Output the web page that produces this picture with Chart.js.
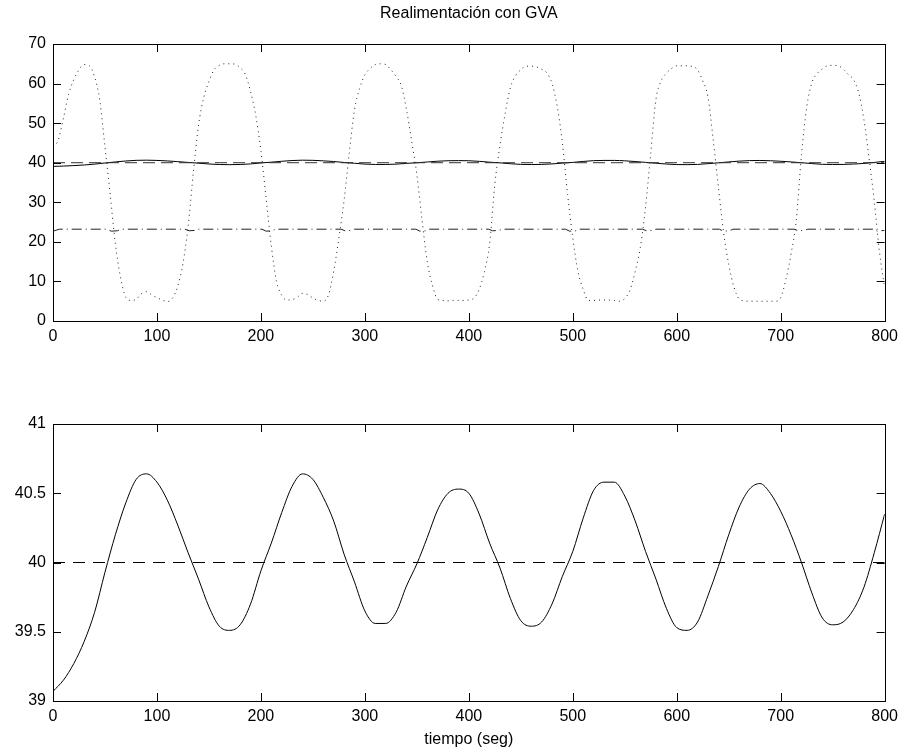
<!DOCTYPE html>
<html>
<head>
<meta charset="utf-8">
<script src="https://cdn.jsdelivr.net/npm/chart.js@4.4.1/dist/chart.umd.min.js"></script>
<style>
  body { margin: 0; background: #fff; }
  canvas { position: absolute; left: 0; }
  #arriba { top: 0; }
  #abajo { top: 360px; }
</style>
</head>
<body>
<canvas id="arriba" width="904" height="360"></canvas>
<canvas id="abajo" width="904" height="389"></canvas>
<script>
// sampling grids (seg)
const tiempo10 = Array.from({length: 81}, (_, i) => i * 10);
const tiempo5 = Array.from({length: 161}, (_, i) => i * 5);

// solid line: controlled variable, read every 10 s
const salida = [
  39.07, 39.15, 39.27, 39.43, 39.64, 39.93, 40.2, 40.43, 40.6, 40.64,
  40.58, 40.45, 40.27, 40.07, 39.88, 39.68, 39.54, 39.51, 39.55, 39.7,
  39.94, 40.14, 40.36, 40.55, 40.64, 40.6, 40.47, 40.3, 40.06, 39.86,
  39.65, 39.56, 39.56, 39.64, 39.83, 39.99, 40.18, 40.38, 40.5, 40.53,
  40.5, 40.35, 40.14, 39.96, 39.74, 39.58, 39.54, 39.57, 39.7, 39.9,
  40.08, 40.32, 40.52, 40.58, 40.58, 40.48, 40.3, 40.08, 39.88, 39.67,
  39.53, 39.51, 39.57, 39.76, 39.97, 40.2, 40.4, 40.53, 40.57, 40.5,
  40.37, 40.2, 40.0, 39.78, 39.6, 39.55, 39.57, 39.66, 39.82, 40.07,
  40.35
];

// dotted line: perturbation, read every 5 s
const perturbacion = [
  44, 45.7, 51.2, 57.3, 61, 63.5, 64.8, 64.5, 61.7, 55.8,
  44, 32, 19.5, 11, 6, 5.2, 5.5, 6.9, 7.4, 6.6,
  5.9, 5.3, 4.9, 5.8, 8.8, 14.5, 24, 37.5, 49.5, 56.5,
  60.5, 63.5, 64.6, 65, 65, 64.9, 64, 62.3, 58, 52,
  43, 31, 19, 10, 6.5, 5.3, 5.4, 6, 7, 6.7,
  5.8, 5.2, 5, 6.6, 12.5, 21, 30.5, 42.5, 53.3, 58.8,
  62.2, 63.8, 64.8, 65, 64.8, 63.5, 61.8, 59.5, 53.5, 45.5,
  37, 25.5, 15, 9, 5.5, 5.2, 5.1, 5.2, 5.2, 5.2,
  5.3, 5.8, 8, 12.5, 19.5, 34.5, 44.5, 52.5, 59, 62,
  63.5, 64.4, 64.4, 64.2, 63.6, 62.7, 60, 54.3, 45, 32,
  21, 12.5, 8, 5.2, 5.2, 5.3, 5.3, 5.3, 5.2, 5,
  5.7, 7.8, 12.5, 18.6, 28.8, 42.5, 56, 60.7, 62.6, 63.8,
  64.5, 64.5, 64.5, 64.3, 63.5, 60.7, 56.7, 46, 34, 22.5,
  14.3, 8.6, 5.6, 5.1, 5, 5, 5, 5, 5, 5,
  5.9, 10.5, 17, 25.5, 42, 54, 60.2, 62.5, 63.7, 64.5,
  64.6, 64.5, 63.7, 62.3, 61, 57.7, 51, 41.2, 30.3, 17.5,
  8.4
];

// dash-dot line: manipulated variable
const tiempoMando = [
  0, 6,
  52, 56, 62, 65,
  127, 131, 137, 140,
  201, 205, 211, 214,
  277, 281, 287, 290,
  349, 353, 359, 362,
  419, 423, 429, 432,
  493, 497, 503, 506,
  567, 571, 577, 580,
  641, 645, 651, 654,
  713, 717, 723, 726,
  789, 793, 800
];
const mando = [
  22.7, 23.2,
  23.2, 22.7, 22.8, 23.2,
  23.2, 22.8, 22.9, 23.2,
  23.2, 22.7, 22.8, 23.2,
  23.2, 22.8, 22.9, 23.2,
  23.2, 22.7, 22.8, 23.2,
  23.2, 22.8, 22.9, 23.2,
  23.2, 22.7, 22.8, 23.2,
  23.2, 22.8, 22.9, 23.2,
  23.2, 22.7, 22.8, 23.2,
  23.2, 22.8, 22.9, 23.2,
  23.2, 22.7, 22.9
];

// dashed line: setpoint
const tiempoRef = [0, 800];
const referencia = [40, 40];

const xTicks = [0, 100, 200, 300, 400, 500, 600, 700, 800];

const FONT = 'Liberation Sans, Arial, Helvetica, sans-serif';

function pares(xs, ys) {
  return xs.map((x, i) => ({x: x, y: ys[i]}));
}

// Matlab style box with inward ticks on every side
const marcoMatlab = {
  id: 'marcoMatlab',
  afterDatasetsDraw(chart) {
    const {ctx, chartArea: a, scales} = chart;
    ctx.save();
    ctx.strokeStyle = '#000';
    ctx.lineWidth = 1;
    ctx.beginPath();
    scales.x.ticks.forEach(t => {
      const px = Math.round(scales.x.getPixelForValue(t.value)) + 0.5;
      ctx.moveTo(px, a.bottom); ctx.lineTo(px, a.bottom - 8);
      ctx.moveTo(px, a.top); ctx.lineTo(px, a.top + 8);
    });
    scales.y.ticks.forEach(t => {
      const py = Math.round(scales.y.getPixelForValue(t.value)) + 0.5;
      ctx.moveTo(a.left, py); ctx.lineTo(a.left + 8, py);
      ctx.moveTo(a.right, py); ctx.lineTo(a.right - 8, py);
    });
    ctx.stroke();
    ctx.strokeRect(Math.round(a.left) + 0.5, Math.round(a.top) + 0.5,
      Math.round(a.right - a.left), Math.round(a.bottom - a.top));
    ctx.restore();
  }
};

function ejeX(alto, titulo) {
  return {
    type: 'linear', min: 0, max: 800,
    afterBuildTicks: s => { s.ticks = xTicks.map(v => ({value: v})); },
    afterFit: s => { s.height = alto; },
    grid: {display: false, drawTicks: false},
    border: {display: false},
    ticks: {color: '#000', padding: 6, maxRotation: 0, font: {family: FONT, size: 16}},
    title: titulo ? {display: true, text: titulo, color: '#000', padding: 0, font: {family: FONT, size: 16}} : {display: false}
  };
}

function ejeY(min, max, paso) {
  return {
    min: min, max: max,
    afterFit: s => { s.width = 53; },
    grid: {display: false, drawTicks: false},
    border: {display: false},
    ticks: {stepSize: paso, color: '#000', padding: 7, font: {family: FONT, size: 16},
      callback: v => String(v)}
  };
}

const linea = {pointRadius: 0, borderWidth: 1, tension: 0, fill: false};
const suave = {cubicInterpolationMode: 'monotone'};

new Chart(document.getElementById('arriba'), {
  type: 'line',
  data: {
    datasets: [
      Object.assign({data: pares(tiempoRef, referencia), borderColor: '#333', borderDash: [12, 6]}, linea),
      Object.assign({data: pares(tiempo10, salida), borderColor: '#000'}, linea, suave),
      Object.assign({data: pares(tiempoMando, mando), borderColor: '#222', borderDash: [10, 4, 1, 4]}, linea),
      Object.assign({data: pares(tiempo5, perturbacion), borderColor: '#222', borderDash: [1, 4]}, linea, suave)
    ]
  },
  options: {
    responsive: false,
    animation: false,
    layout: {padding: {left: 0, right: 18, top: 0, bottom: 0}},
    plugins: {
      legend: {display: false},
      tooltip: {enabled: false},
      title: {
        display: true, text: 'Realimentación con GVA', fullSize: false, color: '#000',
        font: {family: FONT, size: 16, weight: 'normal'},
        padding: {top: 4, bottom: 20.8}
      }
    },
    scales: {x: ejeX(39), y: ejeY(0, 70, 10)}
  },
  plugins: [marcoMatlab]
});

new Chart(document.getElementById('abajo'), {
  type: 'line',
  data: {
    datasets: [
      Object.assign({data: pares(tiempoRef, referencia), borderColor: '#000', borderDash: [12, 8]}, linea),
      Object.assign({data: pares(tiempo10, salida), borderColor: '#000'}, linea, suave)
    ]
  },
  options: {
    responsive: false,
    animation: false,
    layout: {padding: {left: 0, right: 18, top: 64, bottom: 0}},
    plugins: {legend: {display: false}, tooltip: {enabled: false}},
    scales: {x: ejeX(48, 'tiempo (seg)'), y: ejeY(39, 41, 0.5)}
  },
  plugins: [marcoMatlab]
});
</script>
</body>
</html>
